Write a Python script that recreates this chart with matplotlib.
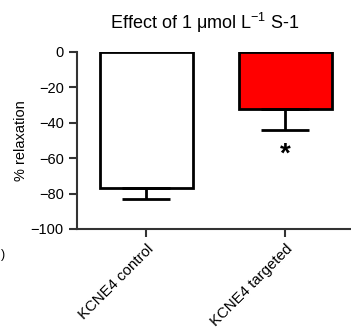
import matplotlib.pyplot as plt
import matplotlib.transforms as mtransforms

plt.rcParams['font.family'] = ['Liberation Sans', 'DejaVu Sans']
plt.rcParams['mathtext.fontset'] = 'custom'
plt.rcParams['mathtext.rm'] = 'Liberation Sans'

# Data
groups = ['KCNE4 control', 'KCNE4 targeted']
means = [-77, -32]
errors = [6, 12]
colors = ['white', '#ff0000']
yticks = [0, -20, -40, -60, -80, -100]

fig = plt.figure(figsize=(3.51, 3.29), dpi=100)
ax = fig.add_axes([0.219, 0.304, 0.781, 0.538])

x = range(len(groups))
ax.bar(x, means, width=0.67, color=colors, edgecolor='black', linewidth=2, zorder=2)
ax.errorbar(x, means, yerr=[errors, [0] * len(errors)], fmt='none', ecolor='black',
            elinewidth=2, capsize=17, capthick=2, zorder=3)

# significance marker under the targeted bar
ax.text(1, -58, '*', ha='center', va='center', fontsize=20, fontweight='bold')

ax.set_xlim(-0.5, 1.475)
ax.set_ylim(-100, 0)
ax.set_yticks(yticks)
ax.set_yticklabels(['0', '\u221220', '\u221240', '\u221260', '\u221280', '\u2212100'], fontsize=10.5)
ax.set_xticks(list(x))
ax.set_xticklabels(groups, rotation=45, ha='right', rotation_mode='anchor', fontsize=10.8)
offset = mtransforms.ScaledTranslation(11 / 100, 0, fig.dpi_scale_trans)
for lbl in ax.get_xticklabels():
    lbl.set_transform(lbl.get_transform() + offset)
ax.set_ylabel('% relaxation', fontsize=10.5)
ax.yaxis.set_label_coords(-0.179, 0.5)

for side in ['top', 'right']:
    ax.spines[side].set_visible(False)
for side in ['left', 'bottom']:
    ax.spines[side].set_linewidth(1.5)
    ax.spines[side].set_color('#333333')
ax.tick_params(width=1.5, length=6, color='#333333')

fig.text(0.584, 0.93, 'Effect of 1 \u03bcmol L$^{-1}$ S-1', ha='center', va='center', fontsize=13)
# stray fragment at the left edge of the original image
fig.text(0.003, 0.225, ')', ha='left', va='center', fontsize=9)

fig.savefig('out.png', dpi=100)
